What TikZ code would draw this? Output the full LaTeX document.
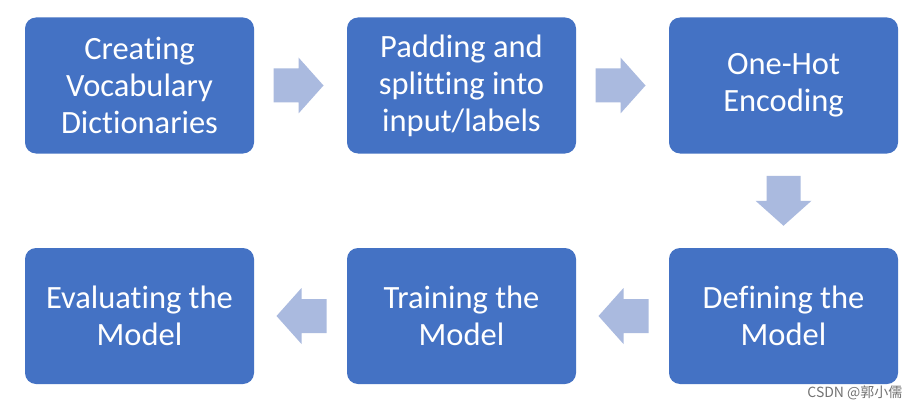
\documentclass[tikz,border=0pt]{standalone}
\usepackage{fontspec}
\setmainfont[Ligatures={NoCommon}]{Carlito}
\newfontfamily\cjk{Noto Sans CJK SC}
\usetikzlibrary{calc}
\definecolor{boxblue}{HTML}{4472C4}
\definecolor{arrowblue}{HTML}{AABADF}
\begin{document}
\begin{tikzpicture}[x=1pt,y=-1pt,
  stepbox/.style={rectangle, rounded corners=11pt, fill=boxblue, draw=none,
    minimum width=229pt, minimum height=136pt, inner sep=0pt,
    text=white, align=center, font=\fontsize{32.5}{37}\selectfont},
  blockarrow/.style={fill=arrowblue, draw=none},
  pics/rarrow/.style={code={
    \fill[blockarrow] (-25,-17) -- (0,-17) -- (0,-28) -- (25,0) -- (0,28) -- (0,17) -- (-25,17) -- cycle;}}]
\useasboundingbox (0,0) rectangle (923,409);
\fill[white] (0,0) rectangle (923,409);
\node[stepbox] (b1) at (139.5,85.5) {Creating\\Vocabulary\\Dictionaries};
\node[stepbox] (b2) at (461.5,85.5) {Padding and\\splitting into\\input/labels};
\node[stepbox] (b3) at (783.5,85.5) {One-Hot\\Encoding};
\node[stepbox] (b4) at (783.5,316) {Defining the\\Model};
\node[stepbox] (b5) at (461.5,316) {Training the\\Model};
\node[stepbox] (b6) at (139.5,316) {Evaluating the\\Model};
\coordinate (a1) at ($(b1.east)!0.5!(b2.west)+(-2,0)$);
\coordinate (a2) at ($(b2.east)!0.5!(b3.west)+(-2,0)$);
\coordinate (a3) at ($(b3.south)!0.5!(b4.north)$);
\coordinate (a4) at ($(b4.west)!0.5!(b5.east)+(1,0)$);
\coordinate (a5) at ($(b5.west)!0.5!(b6.east)+(1,0)$);
\pic at (a1) {rarrow};
\pic at (a2) {rarrow};
\pic[rotate=-90] at (a3) {rarrow};
\pic[rotate=180] at (a4) {rarrow};
\pic[rotate=180] at (a5) {rarrow};
\node[text=black!55, font=\cjk\fontsize{14}{16}\selectfont, anchor=east] (wm) at (906,393) {CSDN @郭小儒};
\end{tikzpicture}
\end{document}
